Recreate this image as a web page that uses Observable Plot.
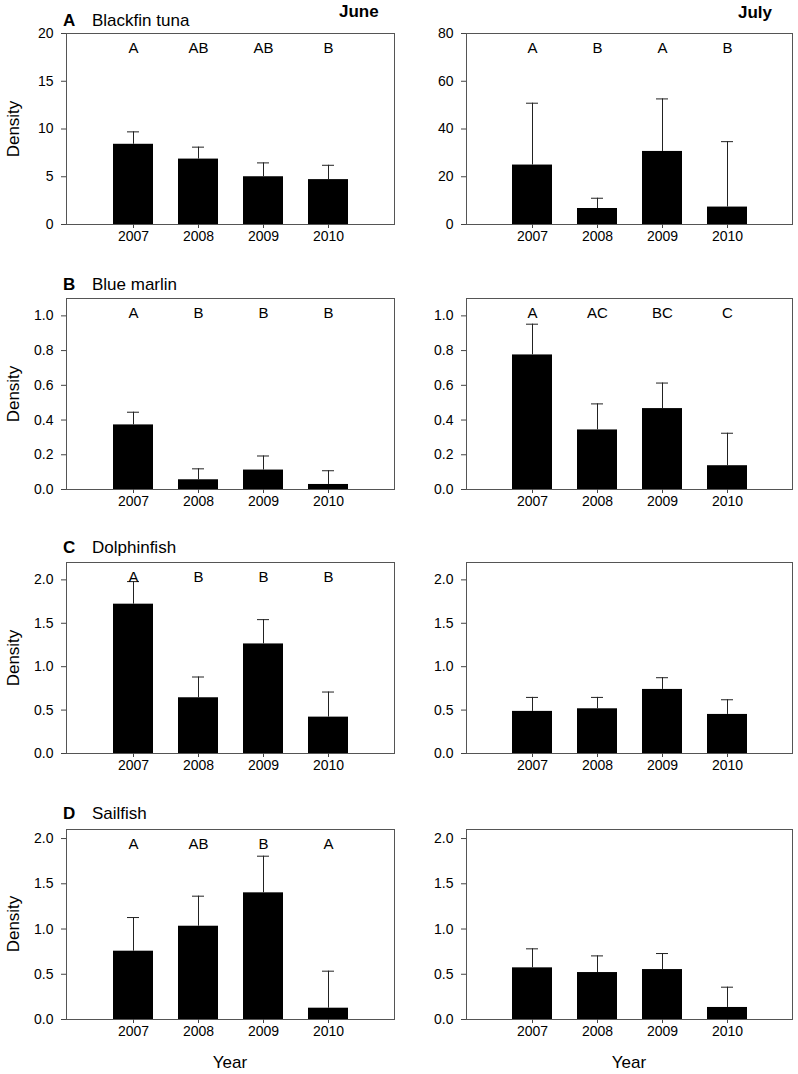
<!DOCTYPE html>
<html><head><meta charset="utf-8">
<script src="https://cdn.jsdelivr.net/npm/d3@7"></script>
<script src="https://cdn.jsdelivr.net/npm/@observablehq/plot@0.6"></script>
<style>
body{margin:0;background:#fff;}
#wrap{position:relative;width:798px;height:1074px;font-family:"Liberation Sans",Arial,sans-serif;color:#000;overflow:hidden;}
.abs{position:absolute;white-space:nowrap;line-height:1;}
.plot{position:absolute;}
</style></head><body><div id="wrap"></div>
<script>
// ---- data ----
const years = ["2007", "2008", "2009", "2010"];

const tunaJuneMean  = [8.4, 6.85, 5.0, 4.7];
const tunaJuneUpper = [9.7, 8.1, 6.45, 6.2];
const tunaJuneLetters = ["A", "AB", "AB", "B"];
const tunaJulyMean  = [24.9, 6.7, 30.6, 7.3];
const tunaJulyUpper = [50.8, 11.0, 52.6, 34.7];
const tunaJulyLetters = ["A", "B", "A", "B"];

const marlinJuneMean  = [0.372, 0.056, 0.112, 0.029];
const marlinJuneUpper = [0.445, 0.119, 0.193, 0.108];
const marlinJuneLetters = ["A", "B", "B", "B"];
const marlinJulyMean  = [0.775, 0.343, 0.466, 0.137];
const marlinJulyUpper = [0.952, 0.493, 0.613, 0.324];
const marlinJulyLetters = ["A", "AC", "BC", "C"];

const dolphinJuneMean  = [1.72, 0.642, 1.262, 0.419];
const dolphinJuneUpper = [1.98, 0.881, 1.542, 0.708];
const dolphinJuneLetters = ["A", "B", "B", "B"];
const dolphinJulyMean  = [0.485, 0.515, 0.738, 0.45];
const dolphinJulyUpper = [0.646, 0.646, 0.873, 0.619];
const dolphinJulyLetters = ["", "", "", ""];

const sailJuneMean  = [0.755, 1.031, 1.40, 0.125];
const sailJuneUpper = [1.127, 1.363, 1.805, 0.534];
const sailJuneLetters = ["A", "AB", "B", "A"];
const sailJulyMean  = [0.571, 0.519, 0.552, 0.133];
const sailJulyUpper = [0.781, 0.703, 0.729, 0.357];
const sailJulyLetters = ["", "", "", ""];

const tunaTicksJune = [0, 5, 10, 15, 20];
const tunaTicksJuly = [0, 20, 40, 60, 80];
const marlinTicks = [0, 0.2, 0.4, 0.6, 0.8, 1.0];
const halfTicks = [0, 0.5, 1.0, 1.5, 2.0];

const panelTitles = [["A", "Blackfin tuna"], ["B", "Blue marlin"], ["C", "Dolphinfish"], ["D", "Sailfish"]];
const months = ["June", "July"];

// ---- layout ----
const wrap = document.getElementById("wrap");
const MT = 10, MB = 40, ML = 66;
const rowsLayout = [
  {top: 33, bottom: 224}, {top: 298, bottom: 489}, {top: 562, bottom: 753}, {top: 829, bottom: 1019}
];
const panels = [
  [{mean: tunaJuneMean, upper: tunaJuneUpper, letters: tunaJuneLetters, max: 20, ticks: tunaTicksJune, fmt: d3.format("d")},
   {mean: tunaJulyMean, upper: tunaJulyUpper, letters: tunaJulyLetters, max: 80, ticks: tunaTicksJuly, fmt: d3.format("d")}],
  [{mean: marlinJuneMean, upper: marlinJuneUpper, letters: marlinJuneLetters, max: 1.1, ticks: marlinTicks, fmt: d3.format(".1f")},
   {mean: marlinJulyMean, upper: marlinJulyUpper, letters: marlinJulyLetters, max: 1.1, ticks: marlinTicks, fmt: d3.format(".1f")}],
  [{mean: dolphinJuneMean, upper: dolphinJuneUpper, letters: dolphinJuneLetters, max: 2.2, ticks: halfTicks, fmt: d3.format(".1f")},
   {mean: dolphinJulyMean, upper: dolphinJulyUpper, letters: dolphinJulyLetters, max: 2.2, ticks: halfTicks, fmt: d3.format(".1f")}],
  [{mean: sailJuneMean, upper: sailJuneUpper, letters: sailJuneLetters, max: 2.1, ticks: halfTicks, fmt: d3.format(".1f")},
   {mean: sailJulyMean, upper: sailJulyUpper, letters: sailJulyLetters, max: 2.1, ticks: halfTicks, fmt: d3.format(".1f")}]
];

function addText(txt, left, top, size, bold, extra) {
  const d = document.createElement("div");
  d.className = "abs";
  d.textContent = txt;
  d.style.left = left + "px";
  d.style.top = top + "px";
  d.style.fontSize = size + "px";
  if (bold) d.style.fontWeight = "bold";
  if (extra) Object.assign(d.style, extra);
  wrap.appendChild(d);
  return d;
}

panels.forEach((row, ri) => {
  const lay = rowsLayout[ri];
  const frameH = lay.bottom - lay.top;
  row.forEach((p, ci) => {
    const data = years.map((y, i) => ({year: y, mean: p.mean[i], upper: p.upper[i], letter: p.letters[i]}));
    const width = ci === 0 ? 400 : 398;
    const chart = Plot.plot({
      width,
      height: MT + frameH + MB,
      marginTop: MT, marginBottom: MB, marginLeft: ML, marginRight: 6,
      style: {fontFamily: "'Liberation Sans', Arial, sans-serif", fontSize: "14px", color: "#000", background: "transparent", overflow: "visible"},
      x: {type: "band", domain: years, paddingInner: 0.39, paddingOuter: 0.695, label: null},
      y: {domain: [0, p.max], label: null},
      marks: [
        Plot.barY(data, {x: "year", y: "mean", fill: "#000"}),
        Plot.ruleX(data, {x: "year", y1: "mean", y2: "upper", stroke: "#222", strokeWidth: 1}),
        Plot.tickY(data, {x: "year", y: "upper", stroke: "#222", strokeWidth: 1, insetLeft: 14, insetRight: 14}),
        Plot.text(data, {x: "year", text: "letter", frameAnchor: "top", lineAnchor: "middle", dy: 15, fontSize: 15, fill: "#000"}),
        Plot.frame({stroke: "#555", strokeWidth: 1}),
        Plot.axisY({ticks: p.ticks, tickFormat: p.fmt, tickSize: 5, tickPadding: 8, label: null, stroke: "#444"}),
        Plot.axisX({tickSize: 4, tickPadding: 3, label: null, stroke: "#444"})
      ]
    });
    chart.classList.add("plot");
    chart.style.left = (ci === 0 ? 0 : 400) + "px";
    chart.style.top = (lay.top - MT) + "px";
    wrap.appendChild(chart);

    // y-axis title (left column only)
    if (ci === 0) {
      addText("Density", 13, (lay.top + lay.bottom) / 2, 17, false,
        {transform: "translate(-50%,-50%) rotate(-90deg)"});
    }
  });
});

// panel titles
const titleBaselines = [26, 290, 553, 819];
panelTitles.forEach((t, i) => {
  addText(t[0], 63, titleBaselines[i] - 14.4, 17, true);
  addText(t[1], 92, titleBaselines[i] - 14.4, 17, false);
});
// month labels
addText(months[0], 339, 17 - 14.4, 17, true);
addText(months[1], 738, 18 - 14.4, 17, true);
// x-axis titles
addText("Year", 230, 1068 - 14.4, 17, false, {transform: "translateX(-50%)"});
addText("Year", 629, 1068 - 14.4, 17, false, {transform: "translateX(-50%)"});
</script></body></html>
